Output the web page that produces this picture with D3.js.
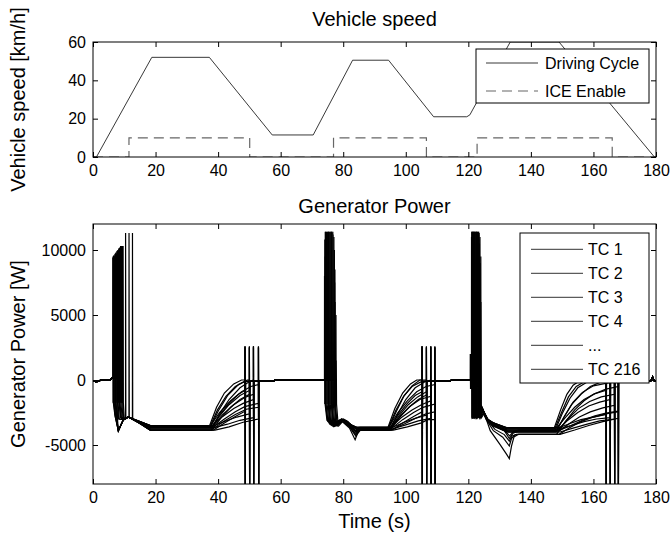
<!DOCTYPE html>
<html>
<head>
<meta charset="utf-8">
<script src="https://cdn.jsdelivr.net/npm/d3@7"></script>
<style>
  body { margin: 0; background: #fff; }
  text { font-family: "Liberation Sans", Arial, sans-serif; }
</style>
</head>
<body>
<script>
// ---- vehicle speed ----
const speedTime = [0, 1.1, 18.8, 37.2, 57.3, 70.4, 83, 94.5, 108.9, 119.5, 120.5, 121.5, 133.4, 149, 179.5, 180];
const speedValue = [0, 0, 52, 52, 11.5, 11.5, 50.5, 50.5, 21, 21, 22, 25, 60, 60, 0, 0];
const iceTime = [0, 11.5, 11.5, 50.1, 50.1, 76.9, 76.9, 106.6, 106.6, 122.8, 122.8, 166, 166, 180];
const iceValue = [0, 0, 10, 10, 0, 0, 10, 10, 0, 0, 10, 10, 0, 0];

const xTicks = [0, 20, 40, 60, 80, 100, 120, 140, 160, 180];
const speedTicks = [0, 20, 40, 60];
const powerTicks = [-5000, 0, 5000, 10000];
const speedLegend = ['Driving Cycle', 'ICE Enable'];
const powerLegend = ['TC 1', 'TC 2', 'TC 3', 'TC 4', '...', 'TC 216'];

// ---- generator power, shared idle parts [t, W] ----
const genIdleStart = [[0, -60], [0.8, -130], [1.8, -100], [2.6, 20], [5.6, 20], [6.1, 180]];
const genIdle1 = [[53.6, -100], [57.6, -100], [58.2, 0], [73.6, 0]];
const genIdle2 = [[110, -100], [114, -100], [114.6, 0], [120.4, 0]];
const genIdle3 = [[168.5, -50], [178.4, -50], [178.9, 250], [179.4, -50], [180, -50]];

// cycle 1 (ICE on ~6-13 s, off ~48-53 s)
const genCycle1 = [
  [[6.3,150],[6.32,9400],[6.4,-1750],[6.42,9500],[6.5,-1750],[7.0,-2700],[8.1,-3900],[9.7,-3050],[11.3,-2850],[15,-3200],[18.3,-3500],[37.3,-3500],[39.5,-2100],[42,-1000],[45,-300],[47.5,0],[48.6,0],[48.6,2600],[48.68,-9000],[48.76,-100]],
  [[6.6,150],[6.62,9450],[6.7,-1750],[6.72,9600],[6.8,-1750],[7.3,-2900],[8.1,-3900],[9.7,-3050],[11.3,-2850],[15,-3280],[18.3,-3650],[37.5,-3650],[40,-2400],[43,-1200],[46.5,-350],[49.3,0],[50,0],[50,2500],[50.08,-9000],[50.16,-100]],
  [[6.9,150],[6.92,9500],[7.0,-1750],[7.02,9700],[7.1,-1750],[7.5,-3000],[8.1,-3900],[9.7,-3050],[11.3,-2850],[15,-3350],[18.3,-3850],[37.8,-3850],[40.5,-2600],[43.5,-1500],[47,-600],[50.2,-100],[51.3,0],[51.3,2600],[51.38,-9000],[51.46,-100]],
  [[7.2,150],[7.22,9600],[7.3,-1750],[7.32,9800],[7.4,-1750],[7.7,-3100],[8.1,-3900],[9.7,-3050],[11.3,-2850],[15,-3200],[18.3,-3500],[37.6,-3500],[40.5,-2500],[44,-1600],[47.5,-900],[50.5,-500],[52.9,-350],[52.9,2500],[52.98,-9000],[53.06,-100]],
  [[7.5,150],[7.52,9700],[7.6,-1750],[7.62,9900],[7.7,-1750],[7.9,-3300],[8.1,-3900],[9.7,-3050],[11.3,-2850],[15,-3280],[18.3,-3650],[37.8,-3650],[40.5,-2700],[43.5,-1800],[46.5,-1100],[48.6,-800],[48.6,2500],[48.68,-9000],[48.76,-100]],
  [[7.8,150],[7.82,9800],[7.9,-1750],[7.92,10000],[8.0,-1750],[8.4,-3000],[9.7,-3050],[11.3,-2850],[15,-3350],[18.3,-3850],[38,-3850],[41,-2900],[44,-2100],[47,-1500],[50,-1100],[50,2600],[50.08,-9000],[50.16,-100]],
  [[8.1,150],[8.12,9900],[8.2,-1750],[8.22,10100],[8.3,-1750],[8.8,-2900],[9.7,-3050],[11.3,-2850],[15,-3200],[18.3,-3500],[38.2,-3500],[41.5,-2800],[45,-2200],[48,-1800],[51.3,-1500],[51.3,2500],[51.38,-9000],[51.46,-100]],
  [[8.4,150],[8.42,10000],[8.5,-1750],[8.52,10200],[8.6,-1750],[9.1,-2900],[9.7,-3050],[11.3,-2850],[15,-3280],[18.3,-3650],[38.3,-3650],[42,-3000],[45.5,-2450],[48.5,-2050],[52.9,-1800],[52.9,2600],[52.98,-9000],[53.06,-100]],
  [[8.7,150],[8.72,10100],[8.8,-1750],[8.82,10300],[8.9,-1750],[9.3,-2800],[9.7,-3050],[11.3,-2850],[15,-3350],[18.3,-3850],[38.5,-3850],[42,-3300],[45.5,-2800],[48.6,-2400],[48.6,2600],[48.68,-9000],[48.76,-100]],
  [[9.0,150],[9.02,10200],[9.1,-1750],[9.12,10300],[9.2,-1750],[9.6,-2900],[10.4,-2950],[10.42,11300],[10.5,-2950],[11.3,-2850],[15,-3200],[18.3,-3500],[38.7,-3500],[42.5,-3150],[46,-2850],[50,-2600],[50,2500],[50.08,-9000],[50.16,-100]],
  [[9.3,150],[9.32,10200],[9.4,-1750],[9.42,10300],[9.5,-1750],[9.8,-3000],[11.3,-2850],[11.5,-2870],[11.52,11300],[11.6,-2900],[15,-3280],[18.3,-3650],[39,-3650],[43,-3400],[47,-3100],[51.3,-2900],[51.3,2600],[51.38,-9000],[51.46,-100]],
  [[9.5,150],[9.52,10300],[9.6,-1750],[9.62,10300],[9.7,-1750],[10,-3050],[11.3,-2850],[12.6,-3000],[12.62,11300],[12.7,-3000],[15,-3350],[18.3,-3850],[39,-3850],[43.5,-3600],[48,-3250],[52.9,-3000],[52.9,2500],[52.98,-9000],[53.06,-100]],
  [[6.45,150],[6.47,9420],[6.55,-1750],[6.57,9550],[6.65,-1750],[7.1,-2800],[8.1,-3900],[9.7,-3050],[11.3,-2850],[15,-3240],[18.3,-3580],[37.4,-3580],[39.8,-2300],[42.5,-1250],[45.5,-500],[48.6,-100],[48.6,2550],[48.68,-9000],[48.76,-100]],
  [[7.05,150],[7.07,9550],[7.15,-1750],[7.17,9750],[7.25,-1750],[7.6,-3050],[8.1,-3900],[9.7,-3050],[11.3,-2850],[15,-3320],[18.3,-3750],[37.7,-3750],[40.5,-2750],[43.5,-1900],[47,-1200],[50,-800],[50,2550],[50.08,-9000],[50.16,-100]],
  [[7.65,150],[7.67,9750],[7.75,-1750],[7.77,9950],[7.85,-1750],[8.2,-3000],[9.7,-3050],[11.3,-2850],[15,-3240],[18.3,-3580],[38.1,-3580],[41.5,-2650],[45,-1900],[48.5,-1350],[51.3,-1100],[51.3,2550],[51.38,-9000],[51.46,-100]],
  [[8.25,150],[8.27,9950],[8.35,-1750],[8.37,10150],[8.45,-1750],[8.9,-2900],[9.7,-3050],[11.3,-2850],[15,-3320],[18.3,-3750],[38.4,-3750],[42,-3150],[45.5,-2650],[49,-2250],[52.9,-2100],[52.9,2550],[52.98,-9000],[53.06,-100]]
];

// cycle 2 (ICE on ~74-78 s, off ~105-109 s)
const genCycle2 = [
  [[74.0,0],[74.02,8000],[74.1,-1850],[74.12,10800],[74.2,-1850],[74.8,-3100],[77,-3300],[79.5,-3000],[82,-3400],[84,-3650],[94.3,-3650],[96.5,-2200],[99,-1000],[101.5,-300],[103.5,0],[105.2,0],[105.2,2600],[105.28,-9000],[105.36,-100]],
  [[74.33,0],[74.35,11400],[74.43,-1850],[74.45,11400],[74.53,-1850],[75.1,-3200],[77,-3400],[79.5,-3050],[82,-3500],[84,-3900],[85.3,-3750],[94.5,-3750],[97,-2400],[99.5,-1200],[102,-450],[104.5,0],[106.6,0],[106.6,2500],[106.68,-9000],[106.76,-100]],
  [[74.66,0],[74.68,11400],[74.76,-1850],[74.78,11300],[74.86,-1850],[75.4,-3300],[77,-3500],[79.5,-3100],[82,-3600],[84,-4100],[85.3,-3850],[94.7,-3850],[97.5,-2600],[100,-1500],[103,-600],[106,-150],[108,0],[108,2600],[108.08,-9000],[108.16,-100]],
  [[75.0,0],[75.02,11400],[75.1,-1850],[75.12,11400],[75.2,-1850],[75.7,-3400],[77,-3600],[79.5,-3150],[82,-3700],[83.8,-4600],[85.3,-3650],[94.5,-3650],[97.5,-2500],[100.5,-1600],[103.5,-900],[106.5,-500],[109.3,-350],[109.3,2500],[109.38,-9000],[109.46,-100]],
  [[75.33,0],[75.35,11400],[75.43,-1850],[75.45,11400],[75.53,-1850],[76,-3300],[77.5,-3500],[79.5,-3000],[82,-3450],[84,-3900],[85.3,-3750],[94.8,-3750],[97.5,-2700],[100.5,-1800],[103,-1200],[105.2,-900],[105.2,2600],[105.28,-9000],[105.36,-100]],
  [[75.66,0],[75.68,11400],[75.76,-1850],[75.78,11400],[75.86,-1850],[76.3,-3400],[78,-3500],[79.8,-3100],[82,-3600],[84,-4300],[85.5,-3850],[95,-3850],[98,-2900],[101,-2100],[104,-1500],[106.6,-1150],[106.6,2600],[106.68,-9000],[106.76,-100]],
  [[76.0,0],[76.02,11400],[76.1,-1850],[76.12,11400],[76.2,-1850],[76.6,-3300],[78,-3400],[80,-3050],[82.5,-3450],[84.5,-3650],[95.2,-3650],[98.5,-2900],[102,-2300],[105,-1900],[108,-1600],[108,2500],[108.08,-9000],[108.16,-100]],
  [[76.33,0],[76.35,11400],[76.43,-1850],[76.45,11300],[76.53,-1850],[77,-3400],[78.3,-3500],[80,-3100],[82.5,-3550],[84,-4000],[85.5,-3750],[95.3,-3750],[99,-3050],[102.5,-2500],[105.5,-2100],[109.3,-1850],[109.3,2600],[109.38,-9000],[109.46,-100]],
  [[76.66,0],[76.68,11400],[76.76,-1850],[76.78,11200],[76.86,-1850],[77.3,-3500],[78.5,-3550],[80,-3150],[82.5,-3650],[84,-3950],[85.5,-3850],[95.5,-3850],[99,-3300],[102.5,-2800],[105.2,-2450],[105.2,2600],[105.28,-9000],[105.36,-100]],
  [[77.0,0],[77.02,11000],[77.1,-1850],[77.12,9000],[77.2,-1850],[77.6,-3400],[79,-3300],[80.5,-3100],[82.5,-3450],[84.5,-3650],[95.7,-3650],[99.5,-3250],[103,-2950],[106.6,-2700],[106.6,2500],[106.68,-9000],[106.76,-100]],
  [[77.33,0],[77.35,8500],[77.43,-1850],[77.45,6000],[77.53,-1850],[78,-3300],[79.5,-3100],[81,-3150],[83,-3550],[84.5,-3750],[96,-3750],[100,-3450],[104,-3150],[108,-2950],[108,2600],[108.08,-9000],[108.16,-100]],
  [[77.66,0],[77.68,5000],[77.76,-1850],[77.78,1500],[77.86,-1850],[78.3,-3200],[80,-3000],[81.5,-3200],[83,-3600],[84.5,-3850],[96,-3850],[100.5,-3600],[105,-3300],[107,-3050],[109.3,-3050],[109.3,2500],[109.38,-9000],[109.46,-100]],
  [[74.15,0],[74.17,9500],[74.25,-1850],[74.27,11400],[74.35,-1850],[75,-3150],[77,-3350],[79.5,-3020],[82,-3450],[84,-3700],[85.3,-3700],[94.4,-3700],[96.8,-2350],[99.3,-1250],[102,-500],[105.2,-100],[105.2,2550],[105.28,-9000],[105.36,-100]],
  [[75.15,0],[75.17,11400],[75.25,-1850],[75.27,11400],[75.35,-1850],[75.8,-3350],[77.3,-3550],[79.5,-3080],[82,-3550],[84,-4200],[85.3,-3800],[94.9,-3800],[97.8,-2750],[100.8,-1900],[103.8,-1300],[106.6,-900],[106.6,2550],[106.68,-9000],[106.76,-100]],
  [[76.15,0],[76.17,11400],[76.25,-1850],[76.27,11400],[76.35,-1850],[76.8,-3350],[78.2,-3450],[80,-3080],[82.5,-3500],[84.3,-3700],[95.1,-3700],[98.3,-2750],[101.5,-2000],[104.5,-1500],[108,-1250],[108,2550],[108.08,-9000],[108.16,-100]],
  [[77.15,0],[77.17,10000],[77.25,-1850],[77.27,7500],[77.35,-1850],[77.8,-3350],[79.2,-3200],[80.8,-3120],[82.8,-3500],[84.5,-3800],[95.8,-3800],[99.8,-3350],[103.5,-2900],[106.5,-2600],[109.3,-2450],[109.3,2550],[109.38,-9000],[109.46,-100]]
];

// cycle 3 (ICE on ~121-124 s, off ~164-168 s)
const genCycle3 = [
  [[120.6,0],[120.62,2000],[120.7,-700],[120.8,0],[121.0,0],[121.02,11000],[121.1,-2900],[121.12,11400],[121.2,-2900],[124.2,-2000],[125.6,-2900],[128,-3300],[132.2,-3670],[147.5,-3670],[149.5,-2300],[151.5,-1100],[153.5,-400],[156,0],[164,0],[164,2500],[164.08,-9000],[164.16,-50]],
  [[121.27,0],[121.29,11400],[121.37,-2900],[121.39,11400],[121.47,-2900],[124.3,-2100],[125.8,-3000],[128,-3450],[131.5,-3850],[133.2,-4300],[134.5,-3950],[136,-3850],[147.8,-3850],[150,-2600],[152.5,-1400],[155,-600],[158,-150],[161,0],[165.3,0],[165.3,2600],[165.38,-9000],[165.46,-50]],
  [[121.54,0],[121.56,11400],[121.64,-2900],[121.66,11400],[121.74,-2900],[124.4,-2200],[125.9,-3050],[128,-3500],[132.2,-4000],[148,-4000],[150.5,-2900],[153,-1900],[156,-1100],[159,-500],[162.5,-150],[166.7,0],[166.7,2500],[166.78,-9000],[166.86,-50]],
  [[121.81,0],[121.83,11400],[121.91,-2900],[121.93,11400],[122.01,-2900],[124.4,-2300],[126,-3200],[127,-3900],[130.1,-4950],[132.2,-5700],[133.1,-6050],[133.8,-5080],[134.6,-4380],[136,-4180],[148.2,-4180],[151,-3200],[154,-2300],[157,-1600],[160,-1100],[164,-700],[167.9,-500],[167.9,2600],[167.98,-9000],[168.06,-50]],
  [[122.08,0],[122.1,11400],[122.18,-2900],[122.2,11400],[122.28,-2900],[124.5,-2150],[125.9,-3000],[128,-3300],[132.2,-3670],[148.3,-3670],[151,-2900],[154,-2100],[157,-1500],[160.5,-1050],[164,-800],[164,2500],[164.08,-9000],[164.16,-50]],
  [[122.35,0],[122.37,11400],[122.45,-2900],[122.47,11400],[122.55,-2900],[124.5,-2200],[126,-3050],[128,-3450],[132.2,-3850],[148.5,-3850],[151.5,-3150],[155,-2500],[158.5,-2000],[162,-1700],[165.3,-1500],[165.3,2600],[165.38,-9000],[165.46,-50]],
  [[122.62,0],[122.64,11400],[122.72,-2900],[122.74,11400],[122.82,-2900],[124.6,-2300],[126,-3100],[128.5,-3550],[132.5,-4000],[148.7,-4000],[152,-3400],[155.5,-2850],[159,-2450],[163,-2150],[166.7,-1950],[166.7,2500],[166.78,-9000],[166.86,-50]],
  [[122.89,0],[122.91,11400],[122.99,-2900],[123.01,11300],[123.09,-2900],[124.6,-2400],[126.2,-3200],[128,-3900],[131,-4400],[133.1,-5080],[133.8,-4500],[135,-4200],[136.5,-4180],[149,-4180],[152.5,-3650],[156,-3200],[160,-2850],[164,-2600],[167.9,-2450],[167.9,2600],[167.98,-9000],[168.06,-50]],
  [[123.16,0],[123.18,11400],[123.26,-2900],[123.28,11200],[123.36,-2900],[124.7,-2300],[126.3,-3050],[128.5,-3350],[132.5,-3670],[149,-3670],[152.5,-3350],[156,-3050],[160,-2850],[164,-2650],[164,2500],[164.08,-9000],[164.16,-50]],
  [[123.43,0],[123.45,11300],[123.53,-2900],[123.55,10500],[123.63,-2900],[124.8,-2400],[126.4,-3100],[128.5,-3500],[132.5,-3850],[149.2,-3850],[153,-3500],[157,-3200],[161,-3000],[165.3,-2900],[165.3,2600],[165.38,-9000],[165.46,-50]],
  [[123.7,0],[123.72,11000],[123.8,-2900],[123.82,9000],[123.9,-2900],[124.9,-2500],[126.5,-3150],[129,-3600],[133,-4000],[149.3,-4000],[153.5,-3700],[158,-3400],[162,-3150],[166.7,-3000],[166.7,2500],[166.78,-9000],[166.86,-50]],
  [[123.97,0],[123.99,9500],[124.07,-2900],[124.09,6000],[124.17,-2900],[125,-2600],[126.6,-3250],[128.5,-3800],[131.5,-4200],[133.1,-4700],[134,-4300],[135.5,-4180],[149.3,-4180],[154,-3850],[158.5,-3500],[163,-3200],[167.9,-2950],[167.9,2600],[167.98,-9000],[168.06,-50]],
  [[121.15,0],[121.17,11400],[121.25,-2900],[121.27,11400],[121.35,-2900],[124.3,-2050],[125.7,-2950],[128,-3350],[132.2,-3760],[147.6,-3760],[149.8,-2500],[152,-1300],[154.5,-500],[157.5,-80],[164,0],[164,2550],[164.08,-9000],[164.16,-50]],
  [[121.7,0],[121.72,11400],[121.8,-2900],[121.82,11400],[121.9,-2900],[124.35,-2250],[125.9,-3100],[128,-3550],[131.5,-3900],[133.1,-4500],[134.3,-4100],[136,-3930],[148.1,-3930],[150.8,-2750],[153.5,-1700],[156.5,-950],[160,-450],[165.3,-200],[165.3,2550],[165.38,-9000],[165.46,-50]],
  [[122.5,0],[122.52,11400],[122.6,-2900],[122.62,11400],[122.7,-2900],[124.55,-2250],[126,-3080],[128.3,-3500],[132.4,-3930],[148.6,-3930],[151.8,-3000],[155.2,-2200],[158.8,-1650],[162.5,-1300],[166.7,-1100],[166.7,2550],[166.78,-9000],[166.86,-50]],
  [[123.3,0],[123.32,11400],[123.4,-2900],[123.42,10800],[123.5,-2900],[124.75,-2350],[126.35,-3080],[128.5,-3420],[132.5,-3760],[149.1,-3760],[152.8,-3500],[156.5,-3100],[160.5,-2750],[164,-2550],[167.9,-2400],[167.9,2550],[167.98,-9000],[168.06,-50]]
];

// ---- layout ----
const W = 672, H = 537;
const left = 93, right = 656;
const speedBox = { top: 42, bottom: 157 };
const powerBox = { top: 224, bottom: 484 };
const FONT = 'Liberation Sans, Arial, sans-serif';

const svg = d3.select('body')
  .append('svg')
    .attr('width', W)
    .attr('height', H);

const x = d3.scaleLinear().domain([0, 180]).range([left, right]);
const ySpeed = d3.scaleLinear().domain([0, 60]).range([speedBox.bottom, speedBox.top]);
const yPower = d3.scaleLinear().domain([-8000, 12000]).range([powerBox.bottom, powerBox.top]);

const defs = svg.append('defs');
[['clipSpeed', speedBox], ['clipPower', powerBox]].forEach(([id, box]) => {
  defs.append('clipPath').attr('id', id)
    .append('rect')
      .attr('x', left).attr('y', box.top)
      .attr('width', right - left).attr('height', box.bottom - box.top);
});

const styleAxis = g => {
  g.attr('font-size', 16).attr('font-family', FONT);
  g.selectAll('.domain').remove();
  g.selectAll('line').attr('stroke', '#000');
  g.selectAll('text').attr('fill', '#000');
};

const drawFrame = (yScale, yTicks, box) => {
  const g = svg.append('g');
  g.append('g')
    .attr('transform', `translate(0, ${box.bottom})`)
    .call(d3.axisBottom(x).tickValues(xTicks).tickSize(-5).tickPadding(8).tickFormat(d => String(d)))
    .call(styleAxis);
  g.append('g')
    .attr('transform', `translate(0, ${box.top})`)
    .call(d3.axisTop(x).tickValues(xTicks).tickSize(-5).tickFormat(''))
    .call(styleAxis);
  g.append('g')
    .attr('transform', `translate(${left}, 0)`)
    .call(d3.axisLeft(yScale).tickValues(yTicks).tickSize(-5).tickPadding(7).tickFormat(d => String(d)))
    .call(styleAxis);
  g.append('g')
    .attr('transform', `translate(${right}, 0)`)
    .call(d3.axisRight(yScale).tickValues(yTicks).tickSize(-5).tickFormat(''))
    .call(styleAxis);
  g.append('rect')
    .attr('x', left).attr('y', box.top)
    .attr('width', right - left).attr('height', box.bottom - box.top)
    .attr('fill', 'none').attr('stroke', '#000').attr('stroke-width', 1);
};

// ---- top plot ----
const speedLine = d3.line().x(d => x(d[0])).y(d => ySpeed(d[1]));
const gSpeed = svg.append('g').attr('clip-path', 'url(#clipSpeed)');
gSpeed.append('path')
  .datum(iceTime.map((t, i) => [t, iceValue[i]]))
  .attr('d', speedLine)
  .attr('fill', 'none').attr('stroke', '#666').attr('stroke-width', 1.2)
  .attr('stroke-dasharray', '10,6');
gSpeed.append('path')
  .datum(speedTime.map((t, i) => [t, speedValue[i]]))
  .attr('d', speedLine)
  .attr('fill', 'none').attr('stroke', '#222').attr('stroke-width', 0.9);

drawFrame(ySpeed, speedTicks, speedBox);

// ---- bottom plot ----
const genTraces = genCycle1.map((c1, i) =>
  genIdleStart.concat(c1, genIdle1, genCycle2[i], genIdle2, genCycle3[i], genIdle3));

const powerLine = d3.line().x(d => x(d[0])).y(d => yPower(d[1]));
svg.append('g').attr('clip-path', 'url(#clipPower)')
  .selectAll('path')
  .data(genTraces)
  .join('path')
    .attr('d', powerLine)
    .attr('fill', 'none').attr('stroke', '#000').attr('stroke-width', 1.2);

drawFrame(yPower, powerTicks, powerBox);

// ---- titles ----
const addText = (txt, px, py, opts = {}) => svg.append('text')
  .attr('x', px).attr('y', py)
  .attr('text-anchor', 'middle')
  .attr('font-size', opts.size || 20)
  .attr('font-family', FONT)
  .attr('transform', opts.rotate ? `rotate(-90, ${px}, ${py})` : null)
  .text(txt);

addText('Vehicle speed', (left + right) / 2, 26);
addText('Generator Power', (left + right) / 2, 213);
addText('Time (s)', (left + right) / 2, 528);
addText('Vehicle speed [km/h]', 25, (speedBox.top + speedBox.bottom) / 2, { rotate: true });
addText('Generator Power [W]', 25, (powerBox.top + powerBox.bottom) / 2, { rotate: true });

// ---- legends ----
const legSpeed = svg.append('g');
legSpeed.append('rect')
  .attr('x', 476).attr('y', 49).attr('width', 173).attr('height', 54)
  .attr('fill', '#fff').attr('stroke', '#000');
speedLegend.forEach((label, i) => {
  const ly = 63 + i * 28;
  legSpeed.append('line')
    .attr('x1', 486).attr('x2', 538).attr('y1', ly).attr('y2', ly)
    .attr('stroke', i === 0 ? '#222' : '#666').attr('stroke-width', i === 0 ? 0.9 : 1.2)
    .attr('stroke-dasharray', i === 0 ? null : '10,6');
  legSpeed.append('text')
    .attr('x', 545).attr('y', ly).attr('dy', '0.35em')
    .attr('font-size', 16).attr('font-family', FONT)
    .text(label);
});

const legPower = svg.append('g');
legPower.append('rect')
  .attr('x', 520).attr('y', 233).attr('width', 129).attr('height', 150)
  .attr('fill', '#fff').attr('stroke', '#000');
powerLegend.forEach((label, i) => {
  const ly = 249.3 + i * 24;
  legPower.append('line')
    .attr('x1', 531).attr('x2', 583).attr('y1', ly).attr('y2', ly)
    .attr('stroke', '#333').attr('stroke-width', 1);
  legPower.append('text')
    .attr('x', 588).attr('y', ly).attr('dy', '0.35em')
    .attr('font-size', 16).attr('font-family', FONT)
    .text(label);
});
</script>
</body>
</html>
